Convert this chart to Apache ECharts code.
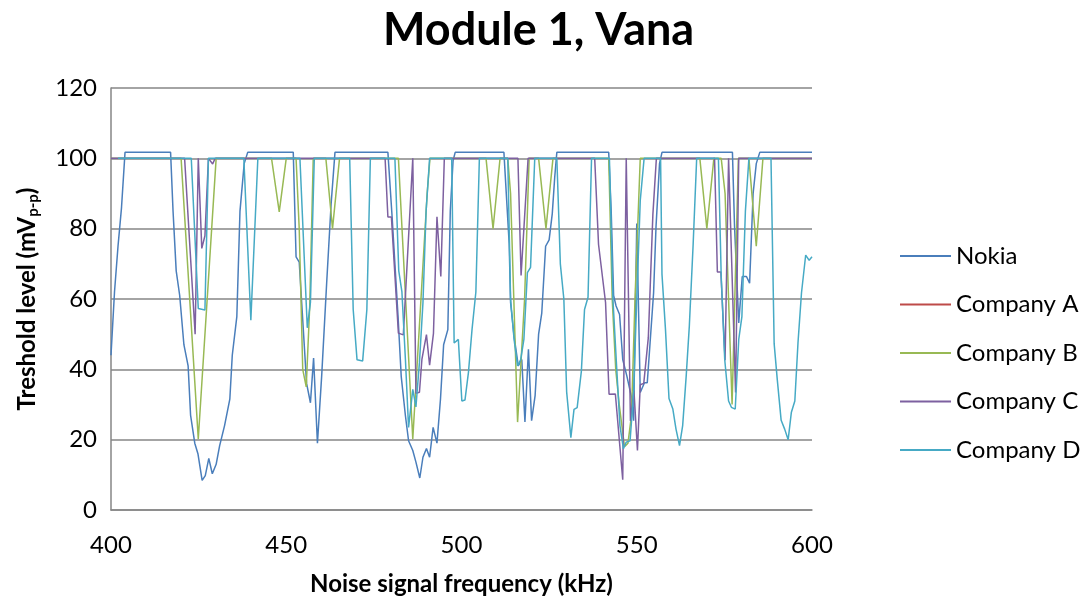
<!DOCTYPE html>
<html>
<head>
<meta charset="utf-8">
<script src="https://cdn.jsdelivr.net/npm/echarts@6/dist/echarts.min.js"></script>
<style>
html,body{margin:0;padding:0;background:#fff;}
#chart{width:1087px;height:601px;}
</style>
</head>
<body>
<div id="chart"></div>
<script>
// ---- data (frequency kHz, threshold mVp-p) ----
const seriesNames = ['Nokia', 'Company A', 'Company B', 'Company C', 'Company D'];
const xTicks = [400, 450, 500, 550, 600];
const yTicks = [0, 20, 40, 60, 80, 100, 120];

const nokia = [[400,44],[401,62],[402,75],[403,86],[404,101.7],[417,101.7],[417.7,85],[418.6,68],[419.6,61],[420.8,47],[422,41],[422.7,27],[423.9,19],[424.8,16],[426,8.4],[426.9,9.8],[427.9,14.7],[428.9,10.3],[430,13],[431,18.3],[432.4,24],[433.9,31.5],[434.6,44],[435.9,55],[436.8,85],[438,98.5],[439,101.7],[452,101.7],[452.8,72],[453.7,70.5],[455.8,36],[456.9,30.5],[457.8,43.2],[458.9,19],[460.1,38],[461.5,64],[462.8,87],[463.9,101.7],[479,101.7],[480.2,83.4],[481.1,68.3],[481.9,55],[482.8,38],[484,26.8],[484.9,19.7],[486.1,16.9],[487,13.6],[488.1,9.1],[489,15],[490,17.5],[490.9,15],[491.9,23.5],[493,19],[494,31.5],[494.9,47],[496.1,51.3],[496.8,85],[497.6,99.4],[498.2,101.7],[512.1,101.7],[513.6,75.8],[514,59],[515,49.4],[516.2,41],[517.2,42.8],[518.1,25],[519.1,45.7],[520,25.4],[521,32.5],[522,50],[522.9,56],[524,75],[525,76.8],[525.9,84.3],[526.6,94.7],[527.2,101.7],[542,101.7],[542.7,85.3],[543.4,61],[544.1,58],[545.1,55.6],[546,42.8],[547.2,38],[548.4,32.5],[549.1,25.4],[550,81.5],[551,33.4],[552.2,36.2],[553,36.2],[553.8,47.5],[554.8,61.7],[555.5,80.6],[556.5,98.5],[557.2,101.7],[577.3,101.7],[577.9,80.6],[579.1,53.2],[580.1,66.4],[581.3,66.4],[582.2,64.5],[583.2,90],[584.1,98.5],[585.1,101.7],[600,101.7]];

// Company A: listed in the legend, no visible line in the chart
const companyA = [];

const companyB = [[400,100],[420,100],[424.9,20.2],[430,100],[445.8,100],[448,84.8],[450,100],[452.8,100],[453.7,80],[454.7,40],[455.7,35],[456.7,58],[457.7,100],[461.3,100],[463.2,80],[465.2,100],[482,100],[486.1,20.2],[490.2,90],[491,100],[507,100],[509,80],[511,100],[513.2,100],[514,90],[516,25],[518,60],[519.3,100],[522,100],[524.1,80],[526.1,100],[542,100],[543,60],[544,40],[545,30],[546.5,18],[547.5,19],[548.5,27],[549.5,60],[551,100],[568,100],[570,80],[572,100],[574.1,100],[575.2,90],[577.2,30],[579,100],[582,100],[584.1,75],[586,100],[600,100]];

const companyC = [[400,100],[421,100],[424,50],[424.9,100],[425.9,74.4],[426.8,78],[427.8,100],[428.3,100],[429,98.4],[429.7,100],[478.2,100],[479,83.3],[480,83.3],[482,50.3],[483.4,49.8],[486.1,100],[487,33.2],[488,33.5],[488.7,42.8],[490,49.9],[490.9,41.2],[492,50.2],[493,83.4],[494.1,66.4],[495.1,100],[516.1,100],[517,66.7],[519,100],[538,100],[539.1,75.5],[541.1,59],[542.1,32.9],[543.9,33],[546,8.6],[547,100],[548.2,25.3],[549.2,34],[550.2,16.9],[551,35.6],[552,36],[553.3,49],[554.6,84],[555.6,100],[572.2,100],[573,67.7],[574,67.7],[575.2,42.6],[576.2,100],[578.2,33.4],[579.1,100],[600,100]];

const companyD = [[402,100],[422.9,100],[424.9,57.3],[426.8,56.9],[427.8,100],[437.9,100],[439.9,54],[441.9,100],[453.9,100],[456,51.8],[456.9,59],[458,100],[468.1,100],[469.1,57],[470.2,42.7],[471.8,42.4],[473,57],[474,100],[481,100],[482.1,68],[483,62],[484,42.8],[484.9,23.5],[486.1,34.3],[487,29.3],[488,41.9],[489,58.9],[489.9,85],[490.9,100],[497.2,100],[497.9,47.5],[499.1,48.5],[500.1,31],[501,31.3],[502,39.3],[503,51.3],[504.1,62],[505.1,100],[513.2,100],[514,60],[515,48.5],[516,41],[516.9,42.8],[517.8,48.5],[518.8,67.5],[519.7,69],[520.9,100],[527.2,100],[528.2,70],[529.2,60],[530,33.6],[531.2,20.6],[532.1,28.6],[533,29.1],[534.2,39.5],[535.1,57],[536.1,60.5],[537.1,100],[542.2,100],[543.2,60],[544.3,40],[545.2,24],[546.2,17.4],[547,19.3],[548.1,19.7],[549.1,33.4],[549.9,57],[551,88],[552.1,100],[556.8,100],[557.2,67],[558.2,51.3],[559.2,31.7],[560.3,28.7],[561.2,23],[562.2,18.3],[563.1,24],[564.1,38],[565,52.3],[566.1,75.8],[567.1,100],[573.3,100],[574.1,66.4],[575.1,42.8],[576.2,31],[577,29.2],[578.1,28.7],[579.1,48.5],[580,55],[581,85],[582,100],[588.3,100],[589.2,47.3],[590.1,37],[591.2,25.5],[592.2,23],[593.2,20],[594.1,27.7],[595.1,31],[596,47.5],[597,61.7],[598.2,72.5],[599.2,71],[600,72]];

const colors = ['#4A7EBB', '#BE4B48', '#98B954', '#7D60A0', '#46AAC5'];
const dataSets = [nokia, companyA, companyB, companyC, companyD];

const FONT = 'Lato, "Open Sans", sans-serif';
const chart = echarts.init(document.getElementById('chart'), null, {renderer: 'canvas'});
chart.setOption({
  animation: false,
  backgroundColor: '#fff',
  color: colors,
  title: {
    text: 'Module 1, Vana',
    left: 378,
    top: 3,
    textStyle: {fontFamily: FONT, fontSize: 45, fontWeight: 'bold', color: '#000'}
  },
  legend: {
    orient: 'vertical',
    left: 895,
    top: 239,
    itemWidth: 51,
    itemHeight: 2,
    itemGap: 24.5,
    icon: 'rect',
    data: seriesNames,
    textStyle: {fontFamily: FONT, fontSize: 24, color: '#000'}
  },
  grid: {left: 111, right: 275, top: 88, bottom: 88, containLabel: false},
  xAxis: {
    type: 'value',
    min: xTicks[0], max: xTicks[xTicks.length - 1], interval: 50,
    name: 'Noise signal frequency (kHz)',
    nameLocation: 'middle',
    nameGap: 62,
    nameTextStyle: {fontFamily: FONT, fontSize: 24, fontWeight: 'bold', color: '#000'},
    axisLine: {show: true, lineStyle: {color: '#868686', width: 1.5}},
    axisTick: {show: false},
    splitLine: {show: false},
    axisLabel: {fontFamily: FONT, fontSize: 24, color: '#000', margin: 23}
  },
  yAxis: {
    type: 'value',
    min: yTicks[0], max: yTicks[yTicks.length - 1], interval: 20,
    name: 'Treshold level (mV{sub|p-p})',
    nameLocation: 'middle',
    nameRotate: 90,
    nameGap: 70,
    nameTextStyle: {
      fontFamily: FONT, fontSize: 24, fontWeight: 'bold', color: '#000',
      rich: {sub: {fontFamily: FONT, fontSize: 15, fontWeight: 'bold', color: '#000', padding: [12, 0, 0, 0]}}
    },
    axisLine: {show: true, lineStyle: {color: '#868686', width: 1.5}},
    axisTick: {show: false},
    splitLine: {show: true, lineStyle: {color: '#868686', width: 1.5}},
    axisLabel: {fontFamily: FONT, fontSize: 24, color: '#000', margin: 14}
  },
  series: seriesNames.map((n, i) => ({
    name: n,
    type: 'line',
    data: dataSets[i],
    symbol: 'none',
    showSymbol: false,
    lineStyle: {width: 1.5, color: colors[i]},
    itemStyle: {color: colors[i]}
  }))
});
</script>
</body>
</html>
